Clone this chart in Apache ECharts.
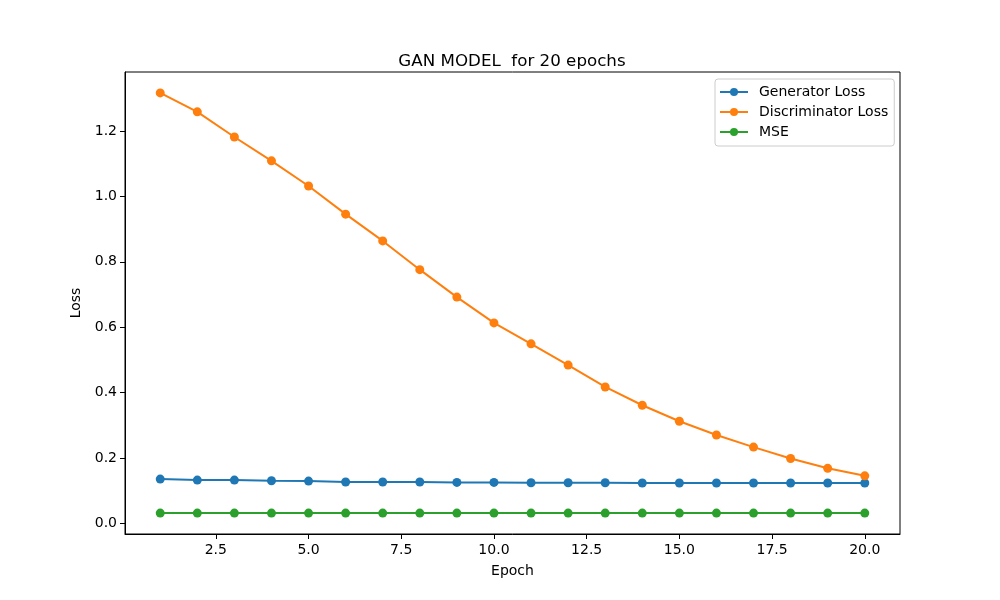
<!DOCTYPE html>
<html>
<head>
<meta charset="utf-8">
<script src="https://cdn.jsdelivr.net/npm/echarts@6/dist/echarts.min.js"></script>
<style>
html, body { margin: 0; padding: 0; background: #fff; }
#main { width: 1000px; height: 600px; }
</style>
</head>
<body>
<div id="main"></div>
<script>
// data
var epochs = [1, 2, 3, 4, 5, 6, 7, 8, 9, 10, 11, 12, 13, 14, 15, 16, 17, 18, 19, 20];
var generatorLoss = [0.135, 0.132, 0.132, 0.130, 0.129, 0.126, 0.126, 0.126, 0.125, 0.125,
    0.124, 0.124, 0.124, 0.123, 0.123, 0.123, 0.123, 0.123, 0.123, 0.123];
var discriminatorLoss = [1.317, 1.259, 1.182, 1.109, 1.032, 0.946, 0.864, 0.776, 0.692, 0.613,
    0.549, 0.484, 0.417, 0.361, 0.312, 0.270, 0.233, 0.198, 0.168, 0.145];
var mseValues = [0.031, 0.031, 0.031, 0.031, 0.031, 0.031, 0.031, 0.031, 0.031, 0.031,
    0.031, 0.031, 0.031, 0.031, 0.031, 0.031, 0.031, 0.031, 0.031, 0.031];
var xTicks = [2.5, 5.0, 7.5, 10.0, 12.5, 15.0, 17.5, 20.0];
var yTicks = [0.0, 0.2, 0.4, 0.6, 0.8, 1.0, 1.2];

function pairs(ys) {
    var out = [];
    for (var i = 0; i < epochs.length; i++) out.push([epochs[i], ys[i]]);
    return out;
}

function lineSeries(name, ys, color) {
    return {
        name: name,
        type: 'line',
        data: pairs(ys),
        symbol: 'circle',
        symbolSize: 9,
        lineStyle: { color: color, width: 2 },
        itemStyle: { color: color },
        emphasis: { disabled: true }
    };
}

var font = 'DejaVu Sans';
var chart = echarts.init(document.getElementById('main'));
var option = {
    animation: false,
    textStyle: { fontFamily: font },
    title: {
        text: 'GAN MODEL  for 20 epochs',
        left: 507,
        textAlign: 'center',
        top: 48,
        textStyle: { fontFamily: font, fontSize: 16.7, fontWeight: 'normal', color: '#000' }
    },
    grid: {
        left: 125, right: 100, top: 72, bottom: 66,
        show: true, borderColor: '#000', borderWidth: 1, backgroundColor: 'transparent'
    },
    legend: {
        orient: 'vertical',
        left: 715,
        top: 79,
        padding: [6, 6, 7, 4],
        itemWidth: 28,
        itemHeight: 10,
        itemGap: 6,
        borderColor: '#cccccc',
        borderWidth: 1,
        borderRadius: 3,
        backgroundColor: 'rgba(255,255,255,0.8)',
        textStyle: { fontFamily: font, fontSize: 14, color: '#000', padding: [0, 0, 0, 6] },
        data: ['Generator Loss', 'Discriminator Loss', 'MSE']
    },
    xAxis: {
        type: 'value',
        min: 0.05,
        max: 20.95,
        name: 'Epoch',
        nameLocation: 'middle',
        nameGap: 30,
        nameTextStyle: { fontFamily: font, fontSize: 14, color: '#000' },
        axisLine: { show: true, onZero: false, lineStyle: { color: '#000' } },
        axisTick: { show: true, length: 5, lineStyle: { color: '#000' }, customValues: xTicks },
        axisLabel: {
            color: '#000', fontSize: 14, fontFamily: font, margin: 9,
            customValues: xTicks,
            formatter: function (v) { return v.toFixed(1); }
        },
        splitLine: { show: false }
    },
    yAxis: {
        type: 'value',
        min: -0.033,
        max: 1.381,
        name: 'Loss',
        nameLocation: 'middle',
        nameGap: 35,
        nameTextStyle: { fontFamily: font, fontSize: 14, color: '#000' },
        axisLine: { show: true, lineStyle: { color: '#000' } },
        axisTick: { show: true, length: 5, lineStyle: { color: '#000' }, customValues: yTicks },
        axisLabel: {
            color: '#000', fontSize: 14, fontFamily: font, margin: 8,
            customValues: yTicks,
            formatter: function (v) { return v.toFixed(1); }
        },
        splitLine: { show: false }
    },
    series: [
        lineSeries('Generator Loss', generatorLoss, '#1f77b4'),
        lineSeries('Discriminator Loss', discriminatorLoss, '#ff7f0e'),
        lineSeries('MSE', mseValues, '#2ca02c')
    ]
};
chart.setOption(option);
</script>
</body>
</html>
